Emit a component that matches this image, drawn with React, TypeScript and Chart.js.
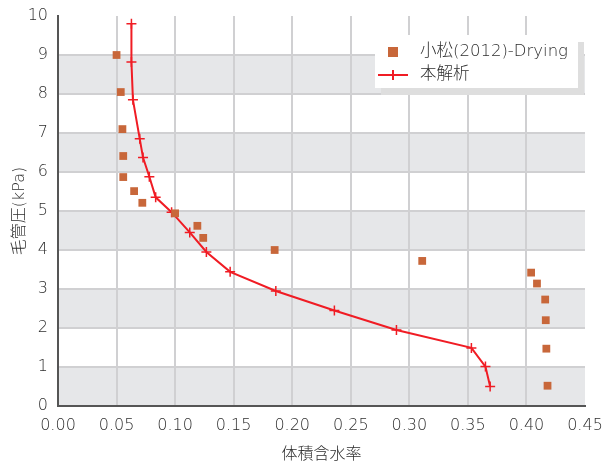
import React, { useEffect, useRef } from "react";
import { Chart, registerables } from "chart.js";

Chart.register(...registerables);

const dryX = [0.050, 0.0536, 0.055, 0.0557, 0.0557, 0.065, 0.072, 0.100, 0.119, 0.124, 0.185, 0.311, 0.404, 0.409, 0.416, 0.4165, 0.417, 0.418];
const dryY = [9.0, 8.05, 7.1, 6.41, 5.87, 5.51, 5.21, 4.94, 4.62, 4.31, 4.0, 3.72, 3.42, 3.14, 2.73, 2.2, 1.47, 0.52];

const simX = [0.0627, 0.0627, 0.064, 0.0698, 0.0726, 0.078, 0.0834, 0.097, 0.1125, 0.1267, 0.147, 0.186, 0.236, 0.289, 0.353, 0.365, 0.369];
const simY = [9.8, 8.82, 7.85, 6.85, 6.37, 5.88, 5.35, 4.97, 4.45, 3.95, 3.44, 2.95, 2.45, 1.95, 1.49, 1.01, 0.5];

const seriesNames = ["小松(2012)-Drying", "本解析"];
const xTitle = "体積含水率";
const yTitle = "毛管圧(kPa)";
const bandRanges = [[0, 1], [2, 3], [4, 5], [6, 7], [8, 9]];

const FONT = "'DejaVu Sans', 'Noto Sans CJK JP', sans-serif";
const DRY_COLOR = "#c8673a";
const SIM_COLOR = "#f01c24";
const TEXT_COLOR = "#2e2e2e";

const bandsPlugin = {
  id: "bands",
  beforeDraw(chart: any) {
    const { ctx, chartArea, scales } = chart;
    ctx.save();
    ctx.fillStyle = "#e6e7e9";
    for (const [a, b] of bandRanges) {
      const y1 = scales.y.getPixelForValue(b);
      const y2 = scales.y.getPixelForValue(a);
      ctx.fillRect(chartArea.left, y1, chartArea.right - chartArea.left, y2 - y1);
    }
    ctx.restore();
  },
};

const legendPlugin = {
  id: "customLegend",
  afterDraw(chart: any) {
    const { ctx } = chart;
    ctx.save();
    const bx = 375, by = 35, bw = 203, bh = 53;
    ctx.fillStyle = "#dedede";
    ctx.fillRect(bx + 6, by + 7, bw, bh);
    ctx.fillStyle = "#ffffff";
    ctx.fillRect(bx, by, bw, bh);
    ctx.fillStyle = DRY_COLOR;
    ctx.fillRect(393 - 5, 52 - 5, 10, 10);
    ctx.strokeStyle = SIM_COLOR;
    ctx.lineWidth = 2;
    ctx.beginPath();
    ctx.moveTo(378, 75);
    ctx.lineTo(408, 75);
    ctx.moveTo(393, 70);
    ctx.lineTo(393, 80);
    ctx.stroke();
    ctx.fillStyle = TEXT_COLOR;
    ctx.font = `200 16.5px ${FONT}`;
    ctx.textBaseline = "middle";
    ctx.textAlign = "left";
    ctx.fillText(seriesNames[0], 420, 52);
    ctx.fillText(seriesNames[1], 420, 75);
    ctx.restore();
  },
};

export default function App() {
  const ref = useRef<HTMLCanvasElement>(null);
  useEffect(() => {
    if (!ref.current) return;
    const font = { family: FONT, size: 16, weight: 200 as any };
    const chart = new Chart(ref.current, {
      type: "scatter",
      data: {
        datasets: [
          {
            label: seriesNames[0],
            data: dryX.map((x, i) => ({ x, y: dryY[i] })),
            backgroundColor: DRY_COLOR,
            borderColor: DRY_COLOR,
            pointStyle: "rect",
            pointRadius: 5.5,
            borderWidth: 0,
            showLine: false,
          },
          {
            label: seriesNames[1],
            data: simX.map((x, i) => ({ x, y: simY[i] })),
            borderColor: SIM_COLOR,
            backgroundColor: SIM_COLOR,
            pointStyle: "cross",
            pointRadius: 5,
            pointBorderWidth: 1.5,
            borderWidth: 2,
            showLine: true,
          },
        ],
      },
      options: {
        animation: false,
        responsive: false,
        layout: { padding: { top: 16, right: 25, left: 0, bottom: 0 } },
        plugins: { legend: { display: false }, tooltip: { enabled: false } },
        scales: {
          x: {
            type: "linear",
            min: 0,
            max: 0.45,
            afterFit: (s: any) => { s.height = 62; s.paddingLeft = 0; s.paddingRight = 0; },
            ticks: {
              stepSize: 0.05,
              padding: 10,
              color: TEXT_COLOR,
              font,
              callback: (v: any) => Number(v).toFixed(2),
            },
            grid: {
              drawTicks: false,
              lineWidth: 2,
              color: (c: any) => (c.tick && Math.abs(c.tick.value - 0.45) < 1e-6 ? "rgba(0,0,0,0)" : "#d0d0d2"),
            },
            border: { color: "#555", width: 2 },
            title: {
              display: true,
              text: xTitle,
              color: TEXT_COLOR,
              font,
              padding: { top: 0, bottom: 4 },
            },
          },
          y: {
            type: "linear",
            min: 0,
            max: 10,
            afterFit: (s: any) => { s.width = 58; s.paddingTop = 0; s.paddingBottom = 0; },
            ticks: {
              stepSize: 1,
              padding: 10,
              color: TEXT_COLOR,
              font,
            },
            grid: {
              drawTicks: false,
              lineWidth: 2,
              color: (c: any) => (c.tick && c.tick.value === 10 ? "rgba(0,0,0,0)" : "#d0d0d2"),
            },
            border: { color: "#555", width: 2 },
            title: {
              display: true,
              text: yTitle,
              color: TEXT_COLOR,
              font,
              padding: { top: 10, bottom: 0 },
            },
          },
        },
      },
      plugins: [bandsPlugin, legendPlugin],
    });
    return () => chart.destroy();
  }, []);
  return (
    <div style={{ position: "fixed", left: 0, top: 0, width: 610, height: 468, background: "#fff" }}>
      <canvas ref={ref} width={610} height={468} style={{ display: "block" }} />
    </div>
  );
}
